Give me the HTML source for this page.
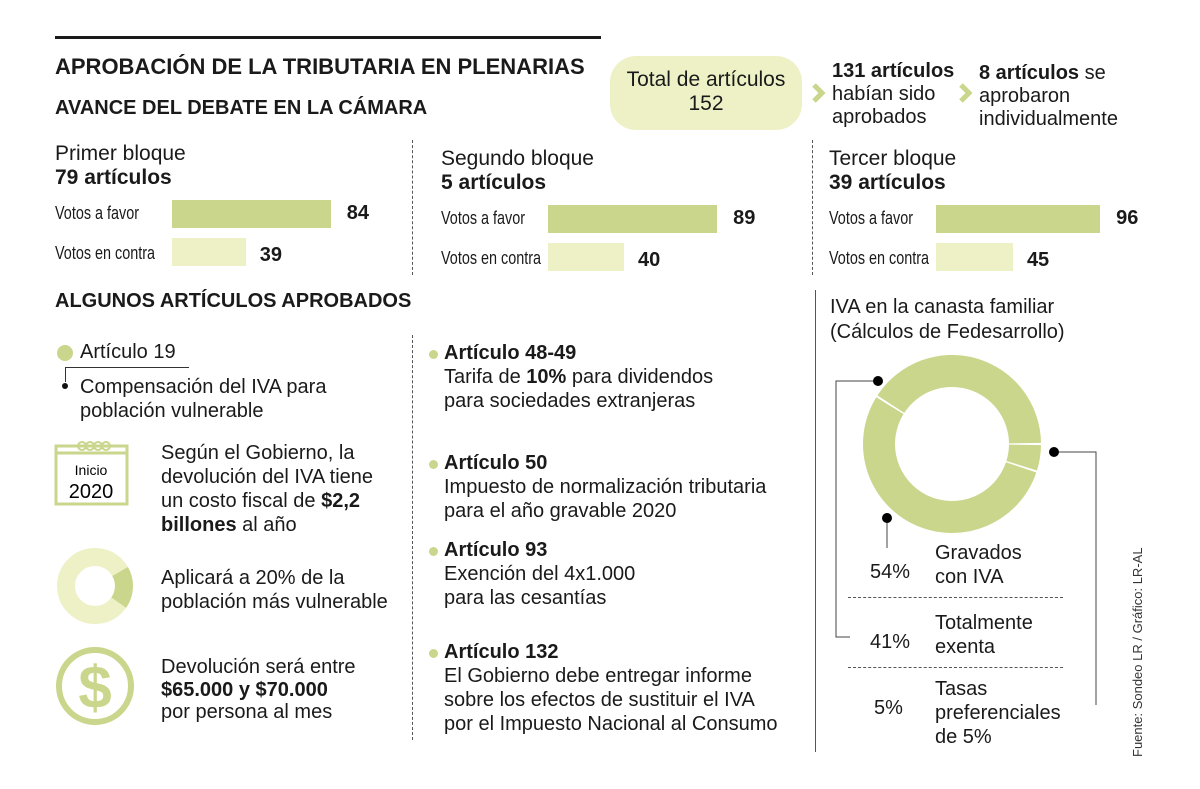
<!DOCTYPE html>
<html><head><meta charset="utf-8"><style>
body{margin:0;background:#fff}
#root{position:relative;width:1200px;height:789px;overflow:hidden;font-family:"Liberation Sans",sans-serif;color:#1a1a1a}
.t{position:absolute;white-space:nowrap;line-height:1.15}
.h{font-weight:bold;font-size:20px}
.s{font-size:20px}
.dash{position:absolute;border-left:1px dashed #555;width:0}
b{font-weight:bold}
</style></head><body>
<div id="root">
<div style="position:absolute;left:55px;top:36px;width:546px;height:3px;background:#1a1a1a"></div>
<div class="t h" style="left:55px;top:54px;font-size:22px">APROBACIÓN DE LA TRIBUTARIA EN PLENARIAS</div>
<div class="t h" style="left:55px;top:97px">AVANCE DEL DEBATE EN LA CÁMARA</div>
<div style="position:absolute;left:610px;top:56px;width:192px;height:74px;border-radius:26px;background:#eef1c6"></div>
<div class="t" style="left:610px;top:68px;width:192px;text-align:center;line-height:1.15;font-size:21px">Total de artículos<br>152</div>
<svg style="position:absolute;left:810px;top:82px" width="16" height="22"><polyline points="4,3 12,11 4,19" fill="none" stroke="#c9d68b" stroke-width="5"/></svg>
<div class="t s" style="left:832px;top:60px;line-height:1.15"><b>131 artículos</b><br>habían sido<br>aprobados</div>
<svg style="position:absolute;left:957px;top:82px" width="16" height="22"><polyline points="4,3 12,11 4,19" fill="none" stroke="#c9d68b" stroke-width="5"/></svg>
<div class="t s" style="left:979px;top:62px;line-height:1.15"><b>8 artículos</b> se<br>aprobaron<br>individualmente</div>

<div class="dash" style="left:412px;top:140px;height:135px"></div>
<div class="dash" style="left:812px;top:140px;height:135px"></div>
<div id="blocks"></div>

<div class="t h" style="left:55px;top:290px">ALGUNOS ARTÍCULOS APROBADOS</div>
<div class="dash" style="left:412px;top:335px;height:405px"></div>
<div style="position:absolute;left:815px;top:290px;width:1px;height:462px;background:#555"></div>

<div style="position:absolute;left:57px;top:345px;width:16px;height:16px;border-radius:50%;background:#c9d68b"></div>
<div class="t s" style="left:80px;top:341px">Artículo 19</div>
<div style="position:absolute;left:65px;top:367px;width:123px;height:14px;border-top:1px solid #333;border-left:1px solid #333"></div>
<div style="position:absolute;left:62px;top:383px;width:6px;height:6px;border-radius:50%;background:#111"></div>
<div class="t s" style="left:80px;top:375px;line-height:1.2">Compensación del IVA para<br>población vulnerable</div>

<svg style="position:absolute;left:54px;top:438px" width="76" height="68">
<rect x="2" y="8" width="71" height="58" fill="none" stroke="#c9d68b" stroke-width="3"/>
<line x1="2" y1="15" x2="73" y2="15" stroke="#c9d68b" stroke-width="3"/>
<circle cx="28" cy="8" r="4" fill="none" stroke="#c9d68b" stroke-width="2"/><circle cx="36" cy="8" r="4" fill="none" stroke="#c9d68b" stroke-width="2"/><circle cx="44" cy="8" r="4" fill="none" stroke="#c9d68b" stroke-width="2"/><circle cx="52" cy="8" r="4" fill="none" stroke="#c9d68b" stroke-width="2"/>
<text x="37" y="37" font-size="14" text-anchor="middle" font-family="Liberation Sans">Inicio</text>
<text x="37" y="60" font-size="20" text-anchor="middle" font-family="Liberation Sans">2020</text>
</svg>
<div class="t s" style="left:161px;top:441px;line-height:1.2">Según el Gobierno, la<br>devolución del IVA tiene<br>un costo fiscal de <b>$2,2</b><br><b>billones</b> al año</div>

<svg style="position:absolute;left:50px;top:544px" width="90" height="84">
<circle cx="45" cy="42" r="29" fill="none" stroke="#eef1c6" stroke-width="18"/>
<path d="M70.1 27.5 A29 29 0 0 1 68.7 58.6" fill="none" stroke="#c9d68b" stroke-width="18"/>
</svg>
<div class="t s" style="left:161px;top:566px;line-height:1.2">Aplicará a 20% de la<br>población más vulnerable</div>

<svg style="position:absolute;left:54px;top:645px" width="82" height="82">
<circle cx="41" cy="41" r="36" fill="none" stroke="#c9d68b" stroke-width="6"/>
<text x="41" y="63" font-size="60" font-weight="bold" fill="#c9d68b" text-anchor="middle" font-family="Liberation Sans">$</text></svg>
<div class="t s" style="left:161px;top:656px;line-height:1.13">Devolución será entre<br><b>$65.000 y $70.000</b><br>por persona al mes</div>

<div id="arts"></div>

<div class="t s" style="left:830px;top:295px;line-height:1.25">IVA en la canasta familiar<br>(Cálculos de Fedesarrollo)</div>
<svg id="donut" style="position:absolute;left:0;top:0" width="1200" height="789"></svg>
<div class="t s" style="left:870px;top:561px">54%</div>
<div class="t s" style="left:935px;top:541px;line-height:1.2">Gravados<br>con IVA</div>
<div class="dash" style="left:848px;top:597px;width:215px;height:0;border-left:none;border-top:1px dashed #555"></div>
<div class="t s" style="left:870px;top:631px">41%</div>
<div class="t s" style="left:935px;top:611px;line-height:1.2">Totalmente<br>exenta</div>
<div class="dash" style="left:848px;top:667px;width:215px;height:0;border-left:none;border-top:1px dashed #555"></div>
<div class="t s" style="left:874px;top:697px">5%</div>
<div class="t s" style="left:935px;top:677px;line-height:1.2">Tasas<br>preferenciales<br>de 5%</div>
<div class="t" style="left:1131px;top:757px;font-size:13px;transform:rotate(-90deg);transform-origin:left top;color:#333">Fuente: Sondeo LR / Gráfico: LR-AL</div>
</div>
<script>
const blockTitles=["Primer bloque","Segundo bloque","Tercer bloque"];
const blockArticles=["79 artículos","5 artículos","39 artículos"];
const votosFavor=[84,89,96];
const votosContra=[39,40,45];
const ivaLabels=["Totalmente exenta","Tasas preferenciales","Gravados con IVA"];
const ivaValues=[41,5,54];

const root=document.getElementById('blocks');
const bx=[55,441,829], barX=[172,548,936], scale=[1.89,1.9,1.71], by=[142,147,147];
function add(parent,html,style,name){const d=document.createElement('div');d.innerHTML=html;d.style.cssText=style;


parent.appendChild(d);return d;}
for(let i=0;i<3;i++){
 const y=by[i];
 add(root,blockTitles[i]+'<br><b>'+blockArticles[i]+'</b>','position:absolute;white-space:nowrap;font-size:21px;line-height:1.15;left:'+bx[i]+'px;top:'+y+'px','block-title');
 add(root,'Votos a favor','position:absolute;white-space:nowrap;font-size:18px;transform:scaleX(.8);transform-origin:left;left:'+bx[i]+'px;top:'+(y+61)+'px','label-favor');
 add(root,'Votos en contra','position:absolute;white-space:nowrap;font-size:18px;transform:scaleX(.8);transform-origin:left;left:'+bx[i]+'px;top:'+(y+101)+'px','label-contra');
 const wf=votosFavor[i]*scale[i], wc=votosContra[i]*scale[i];
 add(root,'','position:absolute;background:#c9d68b;height:28px;left:'+barX[i]+'px;top:'+(y+58)+'px;width:'+wf+'px','bar-favor');
 add(root,'','position:absolute;background:#eef1c6;height:28px;left:'+barX[i]+'px;top:'+(y+96)+'px;width:'+wc+'px','bar-contra');
 add(root,votosFavor[i],'position:absolute;font-weight:bold;font-size:20px;left:'+(barX[i]+wf+16)+'px;top:'+(y+60)+'px','value-favor');
 add(root,votosContra[i],'position:absolute;font-weight:bold;font-size:20px;left:'+(barX[i]+wc+14)+'px;top:'+(y+102)+'px','value-contra');
}
const arts=[["Artículo 48-49","Tarifa de <b>10%</b> para dividendos<br>para sociedades extranjeras",341],
["Artículo 50","Impuesto de normalización tributaria<br>para el año gravable 2020",451],
["Artículo 93","Exención del 4x1.000<br>para las cesantías",538],
["Artículo 132","El Gobierno debe entregar informe<br>sobre los efectos de sustituir el IVA<br>por el Impuesto Nacional al Consumo",640]];
const ar=document.getElementById('arts');
arts.forEach(a=>{
 add(ar,'','position:absolute;left:429px;top:'+(a[2]+9)+'px;width:9px;height:9px;border-radius:50%;background:#c9d68b','article-bullet');
 add(ar,'<b>'+a[0]+'</b><br>'+a[1],'position:absolute;white-space:nowrap;font-size:20px;line-height:1.2;left:444px;top:'+a[2]+'px','article-item');
});
const svg=document.getElementById('donut'),NS='http://www.w3.org/2000/svg';
const cx=952,cy=444,ro=89,ri=57;
function pt(r,a){return [cx+r*Math.cos(a),cy+r*Math.sin(a)];}
const total=ivaValues.reduce((a,b)=>a+b,0);
let a0=-ivaValues[0]/total*2*Math.PI;
for(let i=0;i<ivaValues.length;i++){
 const a1=a0+ivaValues[i]/total*2*Math.PI;
 const g=0.012;
 const s=a0+g,e=a1-g,large=(e-s)>Math.PI?1:0;
 const p1=pt(ro,s),p2=pt(ro,e),p3=pt(ri,e),p4=pt(ri,s);
 const p=document.createElementNS(NS,'path');
 p.setAttribute('d',`M${p1} A${ro} ${ro} 0 ${large} 1 ${p2} L${p3} A${ri} ${ri} 0 ${large} 0 ${p4}Z`);
 p.setAttribute('fill','#c9d68b');
 
 
 svg.appendChild(p);
 a0=a1;
}
const lines=[[[878,381],[836,381],[836,637],[850,637]],[[1054,452],[1096,452],[1096,705]],[[887,518],[887,548]]];
lines.forEach(l=>{
 const pl=document.createElementNS(NS,'polyline');
 pl.setAttribute('points',l.map(q=>q.join(',')).join(' '));
 pl.setAttribute('fill','none');pl.setAttribute('stroke','#444');pl.setAttribute('stroke-width','1');
 
 
 svg.appendChild(pl);
 const c=document.createElementNS(NS,'circle');
 c.setAttribute('cx',l[0][0]);c.setAttribute('cy',l[0][1]);c.setAttribute('r','5');
 
 
 svg.appendChild(c);
});
</script>
</body></html>
